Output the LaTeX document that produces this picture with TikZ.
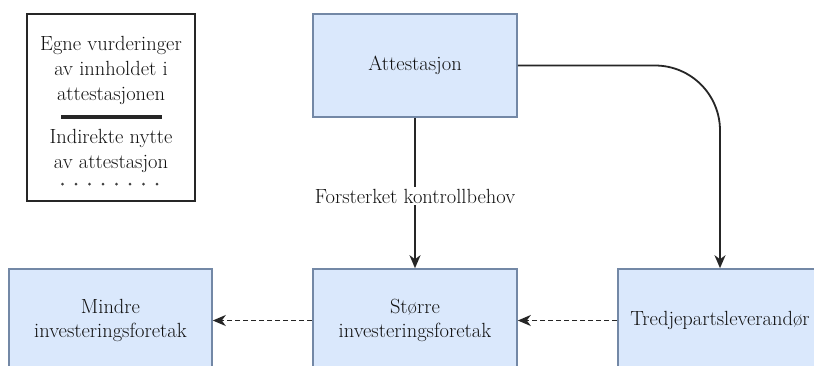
\documentclass[tikz,border=0pt]{standalone}
\usepackage{fontspec}
\usetikzlibrary{arrows.meta}
\definecolor{boxfill}{HTML}{DAE8FC}
\definecolor{boxline}{HTML}{7388A6}
\definecolor{txt}{HTML}{111111}
\tikzset{
  bluebox/.style={draw=boxline, line width=1.6pt, fill=boxfill, minimum width=204pt, minimum height=103pt, inner sep=0pt, align=center, text=txt, font=\fontsize{20.5}{24}\selectfont},
  plaintext/.style={align=center, inner sep=0pt, text=txt, font=\fontsize{20.5}{25}\selectfont},
  solidarrow/.style={draw=black!85, line width=1.8pt, -{Stealth[length=13pt,width=11pt,inset=4pt]}},
  dasharrow/.style={draw=black!85, line width=1.6pt, dash pattern=on 5pt off 3pt, -{Stealth[length=13pt,width=11pt,inset=4pt]}},
}
\begin{document}
\begin{tikzpicture}[x=1pt,y=-1pt]
\useasboundingbox (0,0) rectangle (814,365);
\clip (0,0) rectangle (814,365);
\fill[white] (0,0) rectangle (814,365);
% legend
\node[draw=black!85, line width=1.8pt, minimum width=168pt, minimum height=187pt, inner sep=0pt] (legend) at (111,107.5) {};
\node[plaintext] (leg1) at (111,70) {Egne vurderinger\\av innholdet i\\attestasjonen};
\coordinate (thickA) at (61,117);
\coordinate (thickB) at (162,117);
\draw[line width=4pt, black!85] (thickA) -- (thickB);
\node[plaintext] (leg2) at (111,150.5) {Indirekte nytte\\av attestasjon};
\foreach \i in {0,...,7} { \fill[black!75] (62.5+13.5*\i,184) circle (1.5pt); }
% boxes
\node[bluebox] (att) at (415,65.5) {Attestasjon};
\node[bluebox] (stor) at (415,320.5) {Større\\investeringsforetak};
\node[bluebox, minimum width=203pt] (mindre) at (110.5,320.5) {Mindre\\investeringsforetak};
\node[bluebox] (tred) at (720,320.5) {Tredjepartsleverandør};
% connectors
\draw[solidarrow] (att) -- node[fill=white, inner sep=2pt, text=txt, font=\fontsize{20.5}{24}\selectfont, pos=0.52] {Forsterket kontrollbehov} (stor);
\draw[solidarrow, rounded corners=65pt] (att.east) -| (tred.north);
\draw[dasharrow] (tred.west) -- (stor.east);
\draw[dasharrow] (stor.west) -- (mindre.east);
\end{tikzpicture}
\end{document}
